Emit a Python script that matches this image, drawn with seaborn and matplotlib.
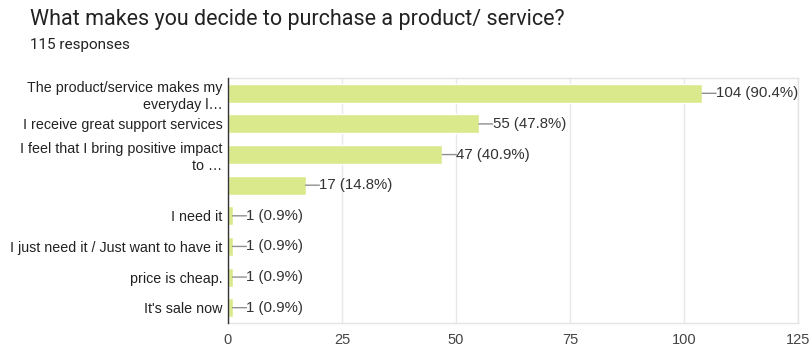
import matplotlib
matplotlib.use("Agg")
import matplotlib.pyplot as plt
import seaborn as sns
import pandas as pd

# Survey answers and response counts
categories = [
    "The product/service makes my\neveryday l…",
    "I receive great support services",
    "I feel that I bring positive impact\nto …",
    "",
    "I need it",
    "I just need it / Just want to have it",
    "price is cheap.",
    "It's sale now",
]
counts = [104, 55, 47, 17, 1, 1, 1, 1]
percents = [90.4, 47.8, 40.9, 14.8, 0.9, 0.9, 0.9, 0.9]
x_ticks = [0, 25, 50, 75, 100, 125]
total_responses = 115

sns.set_theme(style="white")
plt.rcParams["font.family"] = ["Liberation Sans", "DejaVu Sans"]

df = pd.DataFrame({"answer": [c if c else " " for c in categories], "count": counts})

fig = plt.figure(figsize=(8.11, 3.47), dpi=100)
ax = fig.add_axes([228 / 811, 1 - 323 / 347, 570 / 811, 245 / 347])

sns.barplot(data=df, x="count", y="answer", orient="h", color="#d9e98c",
            saturation=1, width=0.62, ax=ax, zorder=3)

ax.set_xlim(0, 125)
ax.set_xticks(x_ticks)
ax.set_xticklabels([str(t) for t in x_ticks], fontsize=10.5, color="#444444")
ax.set_yticks(range(len(categories)))
ax.set_yticklabels(categories, fontsize=10.3, color="#222222", linespacing=1.3)
ax.tick_params(axis="both", length=0, pad=4)
ax.tick_params(axis="x", pad=7)
ax.set_xlabel("")
ax.set_ylabel("")

ax.grid(axis="x", color="#e8e8e8", linewidth=1, zorder=0)
for side in ("top", "right", "bottom"):
    ax.spines[side].set_color("#e4e4e4")
    ax.spines[side].set_linewidth(1)
ax.spines["left"].set_color("#333333")
ax.spines["left"].set_linewidth(1)
ax.spines["left"].set_zorder(5)

# Value labels with short leader lines from the bar ends
leader = 10  # points
for i, (c, p) in enumerate(zip(counts, percents)):
    ax.annotate("", xy=(c, i), xytext=(leader, 0), textcoords="offset points",
                arrowprops=dict(arrowstyle="-", color="#8f8f8f", linewidth=1,
                                shrinkA=0, shrinkB=0))
    ax.annotate(f"{c} ({p}%)", xy=(c, i), xytext=(leader, 0), textcoords="offset points",
                va="center", ha="left", fontsize=10.8, color="#333333")

title_font = ["Roboto", "DejaVu Sans"]
fig.text(30 / 811, 1 - 20 / 347, "What makes you decide to purchase a product/ service?",
         fontsize=15.5, color="#222222", va="center", ha="left", family=title_font)
fig.text(30 / 811, 1 - 45 / 347, f"{total_responses} responses",
         fontsize=11, color="#222222", va="center", ha="left", family=title_font)

fig.savefig("out.png", dpi=100)
